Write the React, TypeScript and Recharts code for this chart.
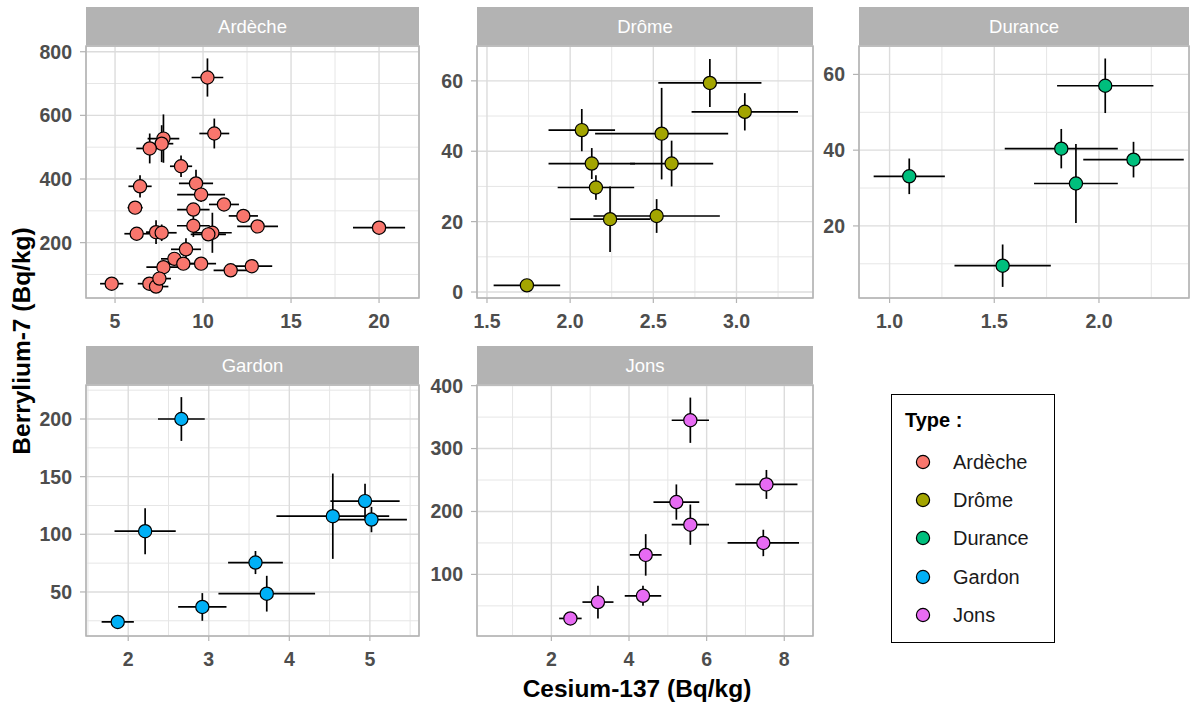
import React from 'react';
import { ScatterChart, Scatter, XAxis, YAxis, CartesianGrid, ErrorBar } from 'recharts';

const FONT = '"Liberation Sans", Arial, Helvetica, sans-serif';

const typeNames = ['Ardèche', 'Drôme', 'Durance', 'Gardon', 'Jons'];
const typeColors = ['#F8766D', '#A3A500', '#00BF7D', '#00B0F6', '#E76BF3'];
const xTitle = 'Cesium-137 (Bq/kg)';
const yTitle = 'Berrylium-7 (Bq/kg)';
const legendTitle = 'Type :';

// Ardèche
const ardecheCs = [10.25, 10.64, 7.75, 7.65, 6.97, 8.75, 9.6, 6.42, 9.89, 11.19, 6.14, 9.45, 12.29, 13.1, 9.45, 20.0, 6.23, 7.33, 7.65, 10.53, 10.3, 9.03, 8.37, 8.88, 7.75, 9.89, 11.57, 12.77, 4.81, 6.95, 7.33, 7.52];
const ardecheBe = [719, 543, 527, 511, 496, 440, 386, 377, 351, 320, 310, 304, 284, 251, 253, 247, 228, 233, 231, 231, 226, 179, 149, 134, 123, 134, 113, 126, 71, 71, 62, 87];
const ardecheCsErr = [0.9, 0.85, 0.9, 0.66, 0.76, 0.63, 0.97, 0.66, 1.36, 0.85, 0.43, 0.92, 0.83, 1.16, 0.93, 1.48, 0.7, 0.57, 0.85, 1.1, 1.0, 0.85, 0.76, 0.76, 0.97, 0.85, 0.97, 1.16, 0.66, 0.66, 0.7, 0.66];
const ardecheBeErr = [60, 47, 76, 58, 47, 34, 43, 35, 23, 20, 20, 20, 20, 20, 35, 15, 15, 37, 26, 63, 20, 35, 20, 20, 20, 15, 15, 15, 10, 12, 12, 15];
const ardecheXTicks = [5, 10, 15, 20];
const ardecheYTicks = [200, 400, 600, 800];
const ardecheXMinor = [7.5, 12.5, 17.5];
const ardecheYMinor = [100, 300, 500, 700];
const ardecheXDomain = [3.35, 22.27];
const ardecheYDomain = [26, 818];

// Drôme
const dromeCs = [1.74, 2.07, 2.13, 2.155, 2.24, 2.52, 2.55, 2.61, 2.84, 3.05];
const dromeBe = [1.9, 46.0, 36.5, 29.7, 20.7, 21.6, 45.0, 36.5, 59.4, 51.2];
const dromeCsErr = [0.2, 0.2, 0.26, 0.23, 0.24, 0.38, 0.4, 0.25, 0.31, 0.32];
const dromeBeErr = [1, 6, 4.4, 3.5, 9.3, 4.8, 13, 6.5, 6.8, 5.3];
const dromeXTicks = [1.5, 2.0, 2.5, 3.0];
const dromeYTicks = [0, 20, 40, 60];
const dromeXMinor = [1.75, 2.25, 2.75, 3.25];
const dromeYMinor = [10, 30, 50];
const dromeXDomain = [1.44, 3.46];
const dromeYDomain = [-1.7, 69.9];

// Durance
const duranceCs = [1.094, 1.54, 1.82, 1.89, 2.03, 2.165];
const duranceBe = [33.1, 9.5, 40.4, 31.2, 57.0, 37.5];
const duranceCsErr = [0.17, 0.23, 0.27, 0.2, 0.23, 0.24];
const duranceBeErr = [4.7, 5.6, 5.2, 10.4, 7.2, 4.7];
const duranceXTicks = [1.0, 1.5, 2.0];
const duranceYTicks = [20, 40, 60];
const duranceXMinor = [1.25, 1.75, 2.25];
const duranceYMinor = [10, 30, 50];
const duranceXDomain = [0.854, 2.43];
const duranceYDomain = [0.97, 67.5];

// Gardon
const gardonCs = [1.87, 2.21, 2.66, 2.92, 3.58, 3.72, 4.54, 4.94, 5.02];
const gardonBe = [24, 102.7, 200, 37, 75.5, 48.5, 115.7, 128.8, 112.8];
const gardonCsErr = [0.2, 0.38, 0.29, 0.3, 0.34, 0.6, 0.7, 0.43, 0.44];
const gardonBeErr = [3, 20, 19, 12, 10, 15.5, 37, 15, 11];
const gardonXTicks = [2, 3, 4, 5];
const gardonYTicks = [50, 100, 150, 200];
const gardonXMinor = [1.5, 2.5, 3.5, 4.5, 5.5];
const gardonYMinor = [25, 75, 125, 175, 225];
const gardonXDomain = [1.476, 5.61];
const gardonYDomain = [11.8, 229.5];

// Jons
const jonsCs = [2.49, 3.2, 4.36, 4.43, 5.22, 5.58, 5.58, 7.46, 7.54];
const jonsBe = [30, 56, 66, 131, 215, 345, 179, 150, 243];
const jonsCsErr = [0.29, 0.4, 0.47, 0.41, 0.59, 0.48, 0.48, 0.92, 0.8];
const jonsBeErr = [4, 26, 16, 33, 28, 36, 32, 21, 23];
const jonsXTicks = [2, 4, 6, 8];
const jonsYTicks = [100, 200, 300, 400];
const jonsXMinor = [1, 3, 5, 7];
const jonsYMinor = [50, 150, 250, 350];
const jonsXDomain = [0.084, 8.74];
const jonsYDomain = [2.1, 401];

const STRIP_H = 39;
const TICK_STYLE = { fontSize: 19.5, fontWeight: 700, fill: '#4D4D4D', fontFamily: FONT };

type PanelProps = {
  name: string; color: string;
  xs: number[]; ys: number[]; exs: number[]; eys: number[];
  xDomain: number[]; yDomain: number[];
  xTicks: number[]; yTicks: number[]; xMinor: number[]; yMinor: number[];
  xDecimals: number;
  left: number; top: number; right: number; bottom: number;
};

function Panel(p: PanelProps) {
  const YW = 70, XH = 42, MT = 14, MR = 3;
  const pw = p.right - p.left;
  const ph = p.bottom - p.top;
  const data = p.xs.map((x, i) => ({ x, y: p.ys[i], ex: p.exs[i], ey: p.eys[i] }));
  const shape = (props: any) => (
    <circle cx={props.cx} cy={props.cy} r={6.6} fill={p.color} stroke="#000" strokeWidth={1.2} />
  );
  return (
    <>
      <div style={{
        position: 'absolute', left: p.left, top: p.top - STRIP_H, width: pw, height: STRIP_H,
        background: '#B3B3B3', color: '#FFFFFF', fontSize: 18.5, fontFamily: FONT,
        display: 'flex', alignItems: 'center', justifyContent: 'center',
      }}>{p.name}</div>
      <div style={{ position: 'absolute', left: p.left - YW, top: p.top - MT }}>
        <ScatterChart width={YW + pw + MR} height={MT + ph + XH} margin={{ top: MT, right: MR, bottom: 0, left: 0 }}>
          <XAxis xAxisId="minor" type="number" dataKey="x" domain={p.xDomain} ticks={p.xMinor} hide allowDataOverflow />
          <YAxis yAxisId="minor" type="number" dataKey="y" domain={p.yDomain} ticks={p.yMinor} hide allowDataOverflow />
          <CartesianGrid xAxisId="minor" yAxisId="minor" stroke="#E6E6E6" strokeWidth={1} />
          <CartesianGrid stroke="#DCDCDC" strokeWidth={1.4} />
          <XAxis
            type="number" dataKey="x" domain={p.xDomain} ticks={p.xTicks} allowDataOverflow
            axisLine={false} tickLine={{ stroke: '#B3B3B3', strokeWidth: 1.2 }} tickSize={5} tickMargin={11}
            tick={TICK_STYLE} height={XH} interval={0}
            tickFormatter={(v: number) => v.toFixed(p.xDecimals)}
          />
          <YAxis
            type="number" dataKey="y" domain={p.yDomain} ticks={p.yTicks} allowDataOverflow
            axisLine={false} tickLine={{ stroke: '#B3B3B3', strokeWidth: 1.2 }} tickSize={6} tickMargin={8}
            tick={TICK_STYLE} width={YW} interval={0}
          />
          <Scatter data={data} dataKey="y" isAnimationActive={false} shape={shape}>
            <ErrorBar dataKey="ey" direction="y" width={0} stroke="#000" strokeWidth={1.7} />
            <ErrorBar dataKey="ex" direction="x" width={0} stroke="#000" strokeWidth={1.7} />
          </Scatter>
        </ScatterChart>
      </div>
      <svg style={{ position: 'absolute', left: p.left - 1, top: p.top - 1, pointerEvents: 'none' }} width={pw + 2} height={ph + 2}>
        <rect x={1} y={1} width={pw} height={ph} fill="none" stroke="#B3B3B3" strokeWidth={1.5} />
      </svg>
    </>
  );
}

function Legend() {
  const rowY = [461, 499, 537, 576, 614];
  return (
    <div style={{
      position: 'absolute', left: 891, top: 394, width: 164, height: 249, boxSizing: 'border-box',
      border: '1.5px solid #000', fontFamily: FONT,
    }}>
      <div style={{ position: 'absolute', left: 13, top: 14, fontSize: 20, fontWeight: 700, color: '#000' }}>{legendTitle}</div>
      {typeNames.map((n, i) => (
        <React.Fragment key={n}>
          <svg style={{ position: 'absolute', left: 22, top: rowY[i] - 394 - 9 }} width={18} height={18}>
            <circle cx={9} cy={9} r={6.6} fill={typeColors[i]} stroke="#000" strokeWidth={1.2} />
          </svg>
          <div style={{ position: 'absolute', left: 61, top: rowY[i] - 394 - 12, fontSize: 20, lineHeight: '24px', color: '#1A1A1A' }}>{n}</div>
        </React.Fragment>
      ))}
    </div>
  );
}

export default function App() {
  const cols = [[86, 419], [477, 813], [859, 1189]];
  const rows = [[46, 298], [385, 636]];
  return (
    <div style={{ position: 'absolute', left: 0, top: 0, width: 1192, height: 707, background: '#fff', fontFamily: FONT, overflow: 'hidden' }}>
      <Panel name={typeNames[0]} color={typeColors[0]} xs={ardecheCs} ys={ardecheBe} exs={ardecheCsErr} eys={ardecheBeErr}
        xDomain={ardecheXDomain} yDomain={ardecheYDomain} xTicks={ardecheXTicks} yTicks={ardecheYTicks}
        xMinor={ardecheXMinor} yMinor={ardecheYMinor} xDecimals={0}
        left={cols[0][0]} right={cols[0][1]} top={rows[0][0]} bottom={rows[0][1]} />
      <Panel name={typeNames[1]} color={typeColors[1]} xs={dromeCs} ys={dromeBe} exs={dromeCsErr} eys={dromeBeErr}
        xDomain={dromeXDomain} yDomain={dromeYDomain} xTicks={dromeXTicks} yTicks={dromeYTicks}
        xMinor={dromeXMinor} yMinor={dromeYMinor} xDecimals={1}
        left={cols[1][0]} right={cols[1][1]} top={rows[0][0]} bottom={rows[0][1]} />
      <Panel name={typeNames[2]} color={typeColors[2]} xs={duranceCs} ys={duranceBe} exs={duranceCsErr} eys={duranceBeErr}
        xDomain={duranceXDomain} yDomain={duranceYDomain} xTicks={duranceXTicks} yTicks={duranceYTicks}
        xMinor={duranceXMinor} yMinor={duranceYMinor} xDecimals={1}
        left={cols[2][0]} right={cols[2][1]} top={rows[0][0]} bottom={rows[0][1]} />
      <Panel name={typeNames[3]} color={typeColors[3]} xs={gardonCs} ys={gardonBe} exs={gardonCsErr} eys={gardonBeErr}
        xDomain={gardonXDomain} yDomain={gardonYDomain} xTicks={gardonXTicks} yTicks={gardonYTicks}
        xMinor={gardonXMinor} yMinor={gardonYMinor} xDecimals={0}
        left={cols[0][0]} right={cols[0][1]} top={rows[1][0]} bottom={rows[1][1]} />
      <Panel name={typeNames[4]} color={typeColors[4]} xs={jonsCs} ys={jonsBe} exs={jonsCsErr} eys={jonsBeErr}
        xDomain={jonsXDomain} yDomain={jonsYDomain} xTicks={jonsXTicks} yTicks={jonsYTicks}
        xMinor={jonsXMinor} yMinor={jonsYMinor} xDecimals={0}
        left={cols[1][0]} right={cols[1][1]} top={rows[1][0]} bottom={rows[1][1]} />
      <Legend />
      <div style={{ position: 'absolute', left: 637 - 200, width: 400, top: 674, textAlign: 'center', fontSize: 24.5, fontWeight: 700, color: '#000', lineHeight: '30px' }}>{xTitle}</div>
      <div style={{ position: 'absolute', left: 22 - 200, width: 400, top: 341 - 15, textAlign: 'center', fontSize: 24.5, fontWeight: 700, color: '#000', lineHeight: '30px', transform: 'rotate(-90deg)' }}>{yTitle}</div>
    </div>
  );
}
